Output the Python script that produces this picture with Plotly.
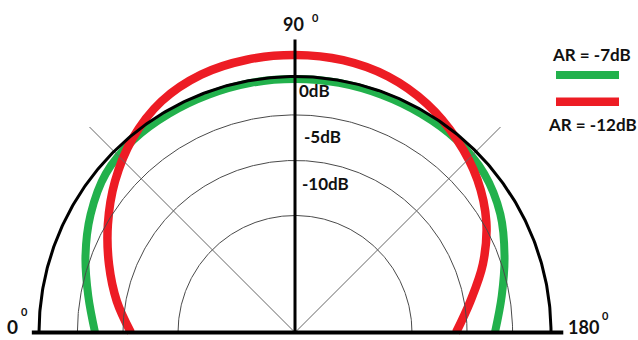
import numpy as np
import plotly.graph_objects as go

# Radiation pattern, half plane. Angle 0 deg at the left end of the base line,
# 90 deg straight up, 180 deg at the right end. Radius is relative to the 0 dB ring.
angles_deg = [0, 10, 20, 30, 40, 50, 60, 70, 80, 90,
              100, 110, 120, 130, 140, 150, 160, 170, 180]

r_ar7 = [0.781, 0.820, 0.871, 0.922, 0.965, 0.982, 0.986, 0.988, 0.990, 0.990,
         0.990, 0.988, 0.986, 0.982, 0.965, 0.926, 0.871, 0.820, 0.781]

r_ar12 = [0.641, 0.707, 0.773, 0.844, 0.918, 0.988, 1.043, 1.072, 1.082, 1.084,
          1.080, 1.064, 1.031, 0.984, 0.930, 0.863, 0.781, 0.695, 0.629]

series_names = ["AR = -7dB", "AR = -12dB"]
series_colors = ["#22b14c", "#ed1c24"]

# grid rings (relative radius) and their level labels
ring_r = [1.0, 0.85, 0.672, 0.457]
ring_labels = ["0dB", "-5dB", "-10dB", ""]
spoke_deg = [45, 135]
angle_labels = ["0", "90", "180"]
degree_mark = "0"

W, H = 638, 340
SCALE = 256.0          # pixels per unit radius
CX, CY = 295.0, 332.5  # pole position in pixels


def to_xy(theta_deg, r):
    t = np.radians(np.asarray(theta_deg, dtype=float))
    r = np.asarray(r, dtype=float)
    return -r * np.cos(t), r * np.sin(t)


def paper(px, py):
    return px / W, 1 - py / H


fig = go.Figure()

# pattern curves
for name, rr, col, lw in zip(series_names, [r_ar7, r_ar12], series_colors, [8, 8.5]):
    x, y = to_xy(angles_deg, rr)
    fig.add_trace(go.Scatter(x=x, y=y, mode="lines", name=name,
                             line=dict(color=col, width=lw, shape="spline", smoothing=1.0),
                             hoverinfo="skip"))

# thin grid rings
arc = np.linspace(0, 180, 361)
for rv in ring_r[1:]:
    x, y = to_xy(arc, np.full(arc.shape, rv))
    fig.add_trace(go.Scatter(x=x, y=y, mode="lines", line=dict(color="#4a4a4a", width=1),
                             hoverinfo="skip", showlegend=False))

# diagonal spokes
for a in spoke_deg:
    x, y = to_xy([a, a], [0, 1.135])
    fig.add_trace(go.Scatter(x=x, y=y, mode="lines", line=dict(color="#666666", width=1),
                             hoverinfo="skip", showlegend=False))

# 0 dB ring
x, y = to_xy(arc, np.full(arc.shape, ring_r[0]))
fig.add_trace(go.Scatter(x=x, y=y, mode="lines", line=dict(color="black", width=3),
                         hoverinfo="skip", showlegend=False))

# vertical axis and base line
x, y = to_xy([90, 90], [0, 1.145])
fig.add_trace(go.Scatter(x=x, y=y, mode="lines", line=dict(color="black", width=3),
                         hoverinfo="skip", showlegend=False))
x, y = to_xy([0, 180], [1.028, 1.048])
fig.add_trace(go.Scatter(x=x, y=y, mode="lines", line=dict(color="black", width=4),
                         hoverinfo="skip", showlegend=False))

FONT = "Lato"
TXT = "#111111"
ann = []


def label(text, px, py, size, xanchor="center", yanchor="middle"):
    xp, yp = paper(px, py)
    ann.append(dict(text=text, x=xp, y=yp, xref="paper", yref="paper",
                    xanchor=xanchor, yanchor=yanchor, showarrow=False, borderpad=0,
                    font=dict(family=FONT, size=size, color=TXT, weight="bold")))


# ring level labels, just right of the vertical axis
for txt, (lx, ly) in zip(ring_labels[:3], [(298, 90.5), (303, 136.5), (301, 183)]):
    label(txt, lx, ly, 17, xanchor="left")

# angle labels, each followed by a small raised degree mark
label(angle_labels[1], 305, 24, 18, xanchor="right")
label(degree_mark, 311, 17, 11, xanchor="left")
label(angle_labels[0], 19, 326, 19, xanchor="right")
label(degree_mark, 19.5, 311, 11, xanchor="left")
label(angle_labels[2], 600, 327, 18, xanchor="right")
label(degree_mark, 601, 315, 11, xanchor="left")

# legend: caption above the green swatch, caption below the red swatch
label(series_names[0], 591.5, 55, 17)
label(series_names[1], 592, 124.5, 17)

shapes = []
for col, py, lw in zip(series_colors, [75, 101.7], [8, 8.5]):
    x0, y0 = paper(556, py)
    x1, _ = paper(619, py)
    shapes.append(dict(type="line", xref="paper", yref="paper", x0=x0, x1=x1, y0=y0, y1=y0,
                       line=dict(color=col, width=lw)))

fig.update_layout(
    width=W, height=H,
    margin=dict(l=0, r=0, t=0, b=0),
    paper_bgcolor="white", plot_bgcolor="white",
    showlegend=False,
    xaxis=dict(range=[-CX / SCALE, (W - CX) / SCALE], visible=False, fixedrange=True),
    yaxis=dict(range=[-(H - CY) / SCALE, CY / SCALE], visible=False, fixedrange=True),
    annotations=ann,
    shapes=shapes,
)

fig.write_html("out.html")
